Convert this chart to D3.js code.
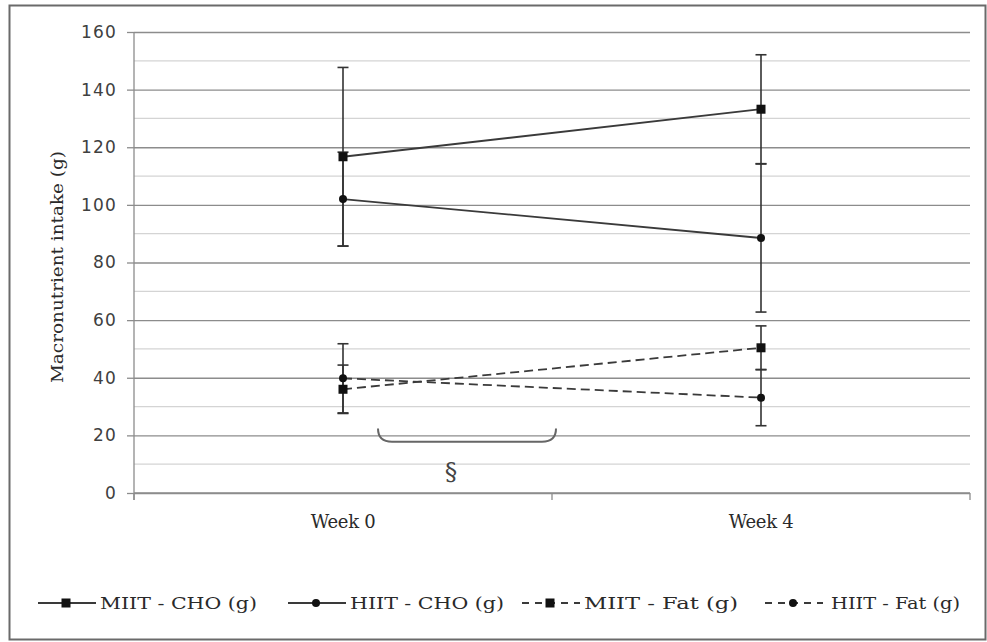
<!DOCTYPE html>
<html>
<head>
<meta charset="utf-8">
<script src="https://cdn.jsdelivr.net/npm/d3@7"></script>
<style>
  body { margin: 0; background: #fff; }
  svg text { fill: #2a2a2a; }
</style>
</head>
<body>
<div id="chart"></div>
<script>
// data
var weeks = ["Week 0", "Week 4"];
var seriesNames = ["MIIT - CHO (g)", "HIIT - CHO (g)", "MIIT - Fat (g)", "HIIT - Fat (g)"];
var miitCho = [116.7, 133.2], miitChoErr = [31, 18.9];
var hiitCho = [102, 88.5], hiitChoErr = [16.3, 25.7];
var miitFat = [36, 50.4], miitFatErr = [8.4, 7.6];
var hiitFat = [39.8, 33.1], hiitFatErr = [12, 9.75];
var yTicks = [0, 20, 40, 60, 80, 100, 120, 140, 160];

var series = [
  { name: seriesNames[0], values: miitCho, err: miitChoErr, marker: "square", dash: null },
  { name: seriesNames[1], values: hiitCho, err: hiitChoErr, marker: "circle", dash: null },
  { name: seriesNames[2], values: miitFat, err: miitFatErr, marker: "square", dash: "9,5" },
  { name: seriesNames[3], values: hiitFat, err: hiitFatErr, marker: "circle", dash: "9,5" }
];

var containerWidth = 987,
    containerHeight = 642,
    margins = { top: 32, right: 17, bottom: 149, left: 134 },
    width = containerWidth - margins.left - margins.right,
    height = containerHeight - margins.top - margins.bottom;

var svg = d3.select("#chart")
    .append("svg")
    .attr("width", containerWidth)
    .attr("height", containerHeight)

// outer frame
svg.append("rect")
    .attr("x", 9.5).attr("y", 5.5)
    .attr("width", 976).attr("height", 634)
    .attr("fill", "none").attr("stroke", "#6a6a6a").attr("stroke-width", 2)

var g = svg.append("g")
    .attr("transform", "translate(" + margins.left + "," + margins.top + ")")

var x = d3.scalePoint().domain(weeks).range([0, width]).padding(0.5);
var y = d3.scaleLinear().domain([0, 160]).range([height, 0]);

// minor gridlines
g.append("g").selectAll("line")
    .data(d3.range(10, 160, 20))
    .join("line")
    .attr("x1", 0).attr("x2", width)
    .attr("y1", d => y(d)).attr("y2", d => y(d))
    .attr("stroke", "#d4d4d4").attr("stroke-width", 1.3)

// major gridlines + y axis
var yAxis = g.append("g")
    .call(d3.axisLeft(y).tickValues(yTicks).tickSize(7).tickPadding(10))
yAxis.select(".domain").remove()
yAxis.selectAll(".tick line").clone()
    .attr("x2", width).attr("stroke", "#8c8c8c").attr("stroke-width", 1.3)
yAxis.selectAll(".tick line").attr("stroke", "#8c8c8c").attr("stroke-width", 1.3)
yAxis.selectAll(".tick text")
    .attr("font-family", "DejaVu Sans").attr("font-size", 17)
    .attr("letter-spacing", 1.2).style("fill", "#404040")

g.append("line")
    .attr("x1", 0).attr("x2", 0).attr("y1", 0).attr("y2", height + 7)
    .attr("stroke", "#8c8c8c").attr("stroke-width", 1.3)

// x axis
g.append("line")
    .attr("x1", 0).attr("x2", width).attr("y1", height).attr("y2", height)
    .attr("stroke", "#8c8c8c").attr("stroke-width", 1.3)
g.append("g").selectAll("line")
    .data([0, width / 2, width])
    .join("line")
    .attr("x1", d => d).attr("x2", d => d)
    .attr("y1", height).attr("y2", height + 7)
    .attr("stroke", "#8c8c8c").attr("stroke-width", 1.3)
g.append("g").selectAll("text")
    .data(weeks)
    .join("text")
    .attr("x", d => x(d)).attr("y", height + 35)
    .attr("text-anchor", "middle")
    .attr("font-family", "DejaVu Serif").attr("font-size", 18)
    .attr("letter-spacing", -0.3)
    .text(d => d)

// y axis title
svg.append("text")
    .attr("transform", "translate(63," + 267 + ") rotate(-90)")
    .attr("text-anchor", "middle")
    .attr("font-family", "DejaVu Serif").attr("font-size", 17)
    .attr("textLength", 232).attr("lengthAdjust", "spacingAndGlyphs")
    .text("Macronutrient intake (g)")

// error bars
series.forEach(function(s) {
  var eb = g.append("g").attr("stroke", "#333").attr("stroke-width", 1.6)
  weeks.forEach(function(w, i) {
    var lo = y(s.values[i] - s.err[i]), hi = y(s.values[i] + s.err[i]), cx = x(w);
    eb.append("line").attr("x1", cx).attr("x2", cx).attr("y1", lo).attr("y2", hi)
    eb.append("line").attr("x1", cx - 5.5).attr("x2", cx + 5.5).attr("y1", lo).attr("y2", lo)
    eb.append("line").attr("x1", cx - 5.5).attr("x2", cx + 5.5).attr("y1", hi).attr("y2", hi)
  })
})

// lines and markers
var line = d3.line().x((d, i) => x(weeks[i])).y(d => y(d));
function drawMarker(sel, type, cx, cy) {
  if (type === "square") {
    sel.append("rect").attr("x", cx - 4.5).attr("y", cy - 4.5)
      .attr("width", 9).attr("height", 9).attr("fill", "#111")
  } else {
    sel.append("circle").attr("cx", cx).attr("cy", cy).attr("r", 4).attr("fill", "#111")
  }
}
series.forEach(function(s) {
  g.append("path")
    .attr("d", line(s.values))
    .attr("fill", "none").attr("stroke", "#3a3a3a").attr("stroke-width", 1.8)
    .attr("stroke-dasharray", s.dash)
  s.values.forEach(function(v, i) { drawMarker(g, s.marker, x(weeks[i]), y(v)) })
})

// significance bracket
var bx0 = x(weeks[0]) + 35, bx1 = x(weeks[0]) + 213, by0 = y(22.4), by1 = y(17.8);
g.append("path")
    .attr("d", "M" + bx0 + "," + by0 + " Q" + bx0 + "," + by1 + " " + (bx0 + 14) + "," + by1 +
      " L" + (bx1 - 14) + "," + by1 + " Q" + bx1 + "," + by1 + " " + bx1 + "," + by0)
    .attr("fill", "none").attr("stroke", "#666").attr("stroke-width", 2)
g.append("text")
    .attr("x", (bx0 + bx1) / 2 - 16).attr("y", y(4.5))
    .attr("text-anchor", "middle")
    .attr("font-family", "DejaVu Serif").attr("font-size", 25)
    .style("fill", "#444")
    .text("§")

// legend
var legendX = [38, 288, 522, 765], legendTextW = [157, 154, 154, 129];
var legend = svg.append("g").attr("transform", "translate(0,603)")
series.forEach(function(s, i) {
  var lg = legend.append("g").attr("transform", "translate(" + legendX[i] + ",0)")
  lg.append("line").attr("x1", 0).attr("x2", 58).attr("y1", 0).attr("y2", 0)
    .attr("stroke", "#3a3a3a").attr("stroke-width", 1.8)
    .attr("stroke-dasharray", s.dash ? "7,6" : null)
  drawMarker(lg, s.marker, 28, 0)
  lg.append("text")
    .attr("x", i === 3 ? 66 : 62).attr("y", 6)
    .attr("font-family", "DejaVu Serif").attr("font-size", 17)
    .attr("textLength", legendTextW[i]).attr("lengthAdjust", "spacingAndGlyphs")
    .text(s.name)
})
</script>
</body>
</html>
